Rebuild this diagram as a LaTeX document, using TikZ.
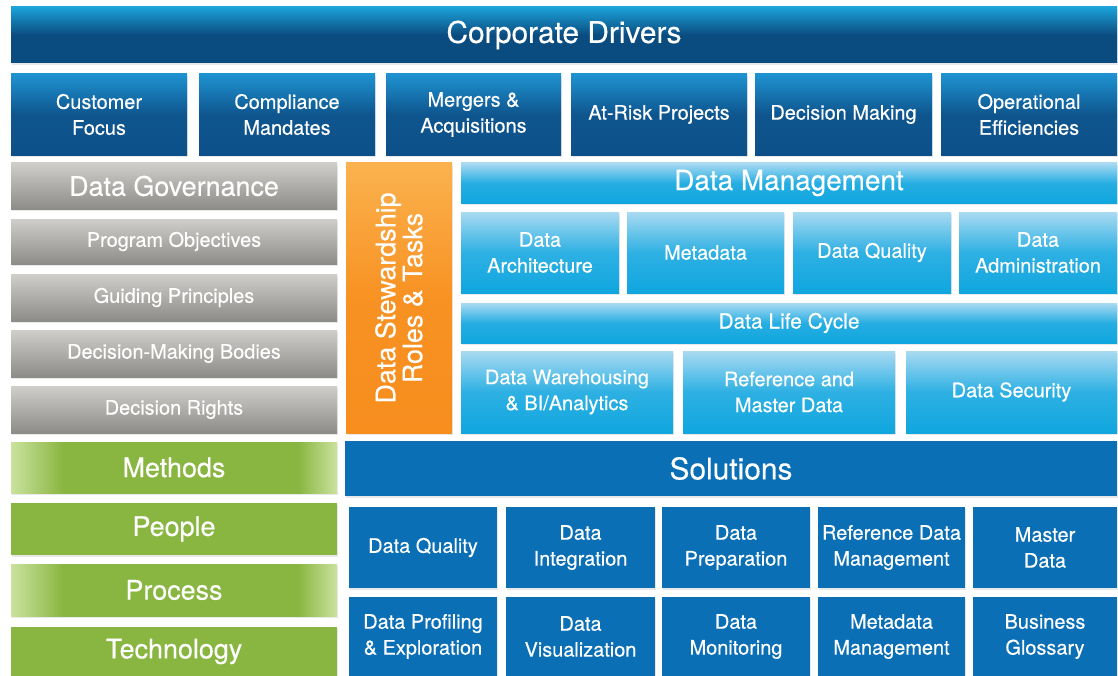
\documentclass[tikz,border=0pt]{standalone}
\usepackage{fontspec}
\setmainfont{TeX Gyre Heros}[FakeBold=0.35]
\usepackage{tikz}
\definecolor{CDlight}{HTML}{1BA3DA}
\definecolor{CDdark}{HTML}{0B4C80}
\definecolor{DRlight}{HTML}{1E93D0}
\definecolor{DRdark}{HTML}{0D5089}
\definecolor{DMlight}{HTML}{A9DAF2}
\definecolor{DMcyan}{HTML}{0FA6DF}
\definecolor{GVlight}{HTML}{D0CECB}
\definecolor{GVdark}{HTML}{8E8C88}
\definecolor{ORlight}{HTML}{FBB24E}
\definecolor{ORdark}{HTML}{F78E1E}
\definecolor{GRmain}{HTML}{89B641}
\definecolor{GRlight}{HTML}{CBE29E}
\definecolor{SLblue}{HTML}{0B6FB5}
\usetikzlibrary{shadows}

% green bars with pale ends
\pgfdeclarehorizontalshading{greenfade}{100bp}{color(0bp)=(GRlight); color(25bp)=(GRlight);
  color(33bp)=(GRmain); color(69bp)=(GRmain); color(75bp)=(GRlight); color(100bp)=(GRlight)}

\tikzset{
  wh/.style 2 args={minimum width=#1bp, minimum height=#2bp},
  blk/.style={anchor=north west, inner sep=0pt, outer sep=0pt, align=center, text=white,
    font=\fontsize{20}{26}\selectfont,
    drop shadow={opacity=0.18, shadow xshift=1pt, shadow yshift=-2.5pt}},
  big/.style={font=\fontsize{27}{27}\selectfont},
  cdbar/.style={blk, top color=CDlight, bottom color=CDdark, middle color=CDdark,
    font=\fontsize{30}{30}\selectfont},
  drv/.style={blk, top color=DRlight, bottom color=DRdark, middle color=DRdark!92!DRlight},
  gov/.style={blk, top color=GVlight, bottom color=GVdark},
  dmbar/.style={blk, top color=DMlight, bottom color=DMcyan, middle color=DMcyan!85!DMlight},
  dmbox/.style={blk, top color=DMlight, bottom color=DMcyan, middle color=DMcyan!80!DMlight},
  stewbox/.style={inner sep=0pt, outer sep=0pt, align=center, text=white,
    top color=ORlight, bottom color=ORdark, middle color=ORdark!90!ORlight,
    font=\fontsize{27}{27}\selectfont,
    drop shadow={opacity=0.18, shadow xshift=1pt, shadow yshift=-2.5pt}},
  grnfade/.style={blk, big, shading=greenfade},
  grnflat/.style={blk, big, fill=GRmain},
  solbar/.style={blk, fill=SLblue, font=\fontsize{30}{30}\selectfont},
  solbox/.style={blk, fill=SLblue}
}

\begin{document}
\begin{tikzpicture}[x=1bp,y=-1bp]
  \useasboundingbox (0,0) rectangle (1118,676);
  \fill[white] (0,0) rectangle (1118,676);

  % corporate drivers
  \node[cdbar, wh={1106}{56}] (cd) at (11,7) {Corporate Drivers};
  \node[drv, wh={176}{81}] (cust) at (11,74) {Customer\\Focus};
  \node[drv, wh={176}{81}] (compl) at (199,74) {Compliance\\Mandates};
  \node[drv, wh={175}{81}] (merg) at (386,74) {Mergers \&\\Acquisitions};
  \node[drv, wh={176}{81}] (risk) at (571,74) {At-Risk Projects};
  \node[drv, wh={177}{81}] (decm) at (755,74) {Decision Making};
  \node[drv, wh={176}{81}] (oper) at (941,74) {Operational\\Efficiencies};

  % governance
  \node[gov, big, wh={326}{46}] (gov) at (11,163) {Data Governance};
  \node[gov, wh={326}{45}] (obj) at (11,219) {Program Objectives};
  \node[gov, wh={326}{47}] (princ) at (11,274) {Guiding Principles};
  \node[gov, wh={326}{47}] (bodies) at (11,330) {Decision-Making Bodies};
  \node[gov, wh={326}{47}] (rights) at (11,386) {Decision Rights};

  \node[stewbox, minimum width=270bp, minimum height=106bp, rotate=90] (stew) at (399,298)
    {Data Stewardship\\Roles \& Tasks};

  % data management
  \node[dmbar, wh={656}{40}, font=\fontsize{28}{28}\selectfont] (dm) at (461,163) {Data Management};
  \node[dmbox, wh={158}{81}] (arch) at (461,212) {Data\\Architecture};
  \node[dmbox, wh={157}{81}] (meta) at (627,212) {Metadata};
  \node[dmbox, wh={158}{81}] (dq) at (793,212) {Data Quality};
  \node[dmbox, wh={158}{81}] (admin) at (959,212) {Data\\Administration};
  \node[dmbar, wh={656}{40}, font=\fontsize{21}{21}\selectfont] (lc) at (461,303) {Data Life Cycle};
  \node[dmbox, wh={212}{82}] (dw) at (461,351) {Data Warehousing\\\& BI/Analytics};
  \node[dmbox, wh={212}{82}] (rmd) at (683,351) {Reference and\\Master Data};
  \node[dmbox, wh={211}{82}] (sec) at (906,351) {Data Security};

  % methods, people, process, technology
  \node[grnfade, wh={326}{51}] (meth) at (11,442) {Methods};
  \node[grnflat, wh={326}{52}] (ppl) at (11,503) {People};
  \node[grnfade, wh={326}{52}] (proc) at (11,564) {Process};
  \node[grnflat, wh={326}{49}] (tech) at (11,627) {Technology};

  % solutions
  \node[solbar, wh={772}{55}] (sol) at (345,441) {Solutions};
  \node[solbox, wh={148}{81}] (sdq) at (349,507) {Data Quality};
  \node[solbox, wh={149}{81}] (sint) at (506,507) {Data\\Integration};
  \node[solbox, wh={148}{81}] (sprep) at (662,507) {Data\\Preparation};
  \node[solbox, wh={147}{81}] (sref) at (818,507) {Reference Data\\Management};
  \node[solbox, wh={144}{81}] (smst) at (973,507) {Master\\Data};
  \node[solbox, wh={148}{79}] (sprof) at (349,597) {Data Profiling\\\& Exploration};
  \node[solbox, wh={149}{79}] (svis) at (506,597) {Data\\Visualization};
  \node[solbox, wh={148}{79}] (smon) at (662,597) {Data\\Monitoring};
  \node[solbox, wh={147}{79}] (smeta) at (818,597) {Metadata\\Management};
  \node[solbox, wh={144}{79}] (sglos) at (973,597) {Business\\Glossary};
\end{tikzpicture}
\end{document}
